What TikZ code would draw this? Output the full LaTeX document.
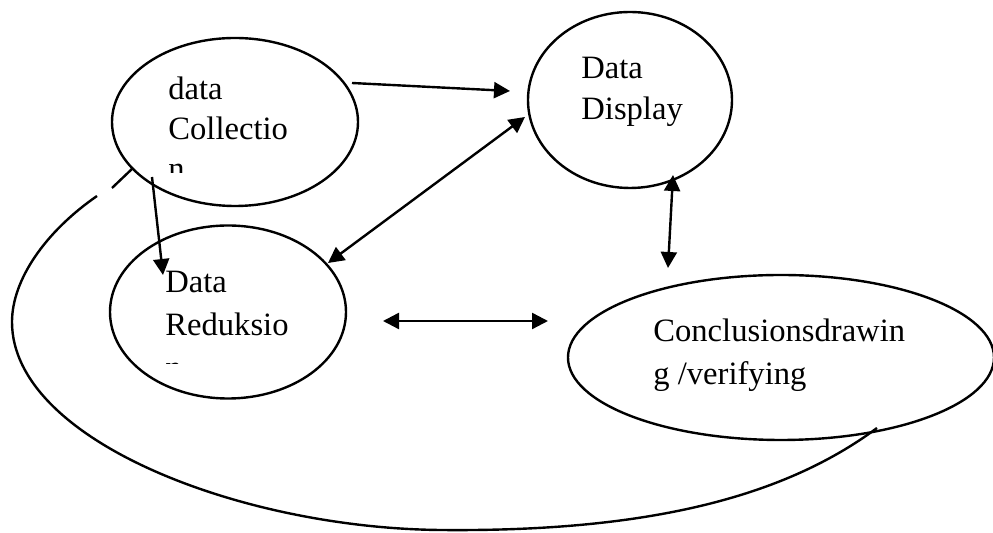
\documentclass[tikz,border=0pt]{standalone}
\usepackage{fontspec}
\setmainfont{Liberation Serif}
\usetikzlibrary{shapes.geometric,arrows.meta}

\tikzset{
  stage/.style={ellipse, draw, line width=1.2pt, inner sep=0pt},
  label/.style={anchor=base west, inner sep=0pt, align=left,
    font=\fontsize{16.3}{20}\selectfont},
  tip/.tip={Triangle[length=8pt,width=8pt]},
  flow/.style={line width=1.2pt, -tip},
  twoway/.style={line width=1.2pt, tip-tip},
  loop/.style={line width=1.2pt}
}

\begin{document}
\begin{tikzpicture}[x=0.5pt, y=-0.5pt]
  \useasboundingbox (0,0) rectangle (993,533);

  % the four stages
  \node[stage, minimum width=123pt, minimum height=84pt]  (col) at (235,122) {};
  \node[stage, minimum width=102pt, minimum height=88pt]  (dis) at (630,100) {};
  \node[stage, minimum width=118pt, minimum height=86.5pt] (red) at (228,312) {};
  \node[stage, minimum width=213pt, minimum height=82.5pt] (con) at (781,357.5) {};

  % stage labels
  \node[label] (tcol) at (168,100) {data};
  \node[label] (tcol2) at (168,140) {Collectio};
  \begin{scope}
    \clip (150,150) rectangle (300,173);
    \node[label] (tcol3) at (168,180) {n};
  \end{scope}
  \node[label] (tdis) at (581,79) {Data};
  \node[label] (tdis2) at (581,120) {Display};
  \node[label] (tred) at (165,293) {Data};
  \node[label] (tred2) at (165,336) {Reduksio};
  \begin{scope}
    \clip (150,345) rectangle (300,364);
    \node[label] (tred3) at (165,379) {n};
  \end{scope}
  \node[label] (tcon) at (653,342) {Conclusionsdrawin};
  \node[label] (tcon2) at (653,385) {g /verifying};

  % connector ends
  \coordinate (a1) at (352,83);
  \coordinate (a2) at (510,91);
  \coordinate (b1) at (328,263);
  \coordinate (b2) at (525,117);
  \coordinate (c1) at (152,177);
  \coordinate (c2) at (163,275);
  \coordinate (d1) at (673,175);
  \coordinate (d2) at (668,268);
  \coordinate (e1) at (383,321);
  \coordinate (e2) at (548,321);

  \draw[flow]   (a1) -- (a2);
  \draw[twoway] (b1) -- (b2);
  \draw[flow]   (c1) -- (c2);
  \draw[twoway] (d1) -- (d2);
  \draw[twoway] (e1) -- (e2);

  % feedback loop from conclusions back to collection
  \coordinate (l0) at (112,188);
  \coordinate (l1) at (133,168);
  \coordinate (m0) at (97,196);
  \coordinate (m1) at (12,322);
  \coordinate (m2) at (440,530);
  \coordinate (m3) at (877,428);
  \draw[loop] (l0) -- (l1);
  \draw[loop] (m0) .. controls (45,232) and (12,280) .. (m1)
              .. controls (12,440) and (240,528) .. (m2)
              .. controls (640,532) and (780,500) .. (m3);
\end{tikzpicture}
\end{document}
